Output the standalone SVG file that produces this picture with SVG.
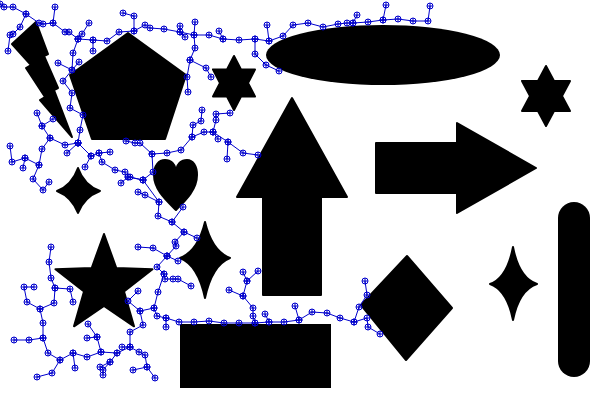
<svg xmlns="http://www.w3.org/2000/svg" width="600" height="400" viewBox="0 0 600 400">
<style>
.s{fill:#000;stroke:#000;stroke-width:2;stroke-linejoin:round}
.e path{fill:none;stroke:#0000cc;stroke-width:1;marker-start:url(#m);marker-mid:url(#m);marker-end:url(#m)}
</style>
<defs>
<marker id="m" viewBox="-4 -4 8 8" refX="0" refY="0" markerWidth="8" markerHeight="8" markerUnits="userSpaceOnUse" overflow="visible">
<circle r="3" fill="none" stroke="#0000cc" stroke-width="1"/>
<path d="M-3,0H3M0,-3V3" stroke="#0000cc" stroke-width="1"/>
</marker>
</defs>
<rect width="600" height="400" fill="#fff"/>
<g id="shapes">
<polygon id="bolt" class="s" points="36,22 48,54 44,56 58,88 54,90 72,137 40,100 45,97 26,68 31,65 12,44"/>
<polygon id="pentagon" class="s" points="128,33 186,75 165,139 92,139 70,75"/>
<polygon id="hexstar1" class="s" points="234,56 241,69.5 255,69.5 248,83 255,96.5 241,96.5 234,110 227,96.5 213,96.5 220,83 213,69.5 227,69.5"/>
<ellipse id="ellipse" cx="383" cy="55" rx="117" ry="30" fill="#000"/>
<polygon id="hexstar2" class="s" points="546,66 554,81 570,81 562,96 570,111 554,111 546,126 538,111 522,111 530,96 522,81 538,81"/>
<polygon id="uparrow" class="s" points="292,98 347,197 321,197 321,295 263,295 263,197 237,197"/>
<polygon id="rightarrow" class="s" points="376,143 457,143 457,123 536,168 457,213 457,193 376,193"/>
<path id="heart" class="s" d="M176,210 C167,201 154,190 154,175 C154,165 159,160 165,160 C171,160 175,164 176,170 C177,164 181,160 187,160 C193,160 197,166 197,175 C197,190 185,201 176,210 Z"/>
<path id="star4a" class="s" d="M78,168 Q84,185 100,191 Q84,197 78,213 Q72,197 57,191 Q72,185 78,168 Z"/>
<polygon id="star5" class="s" points="104,234 116.3,268 152.5,269.2 124,291.5 134,326.3 104,306 74,326.3 84,291.5 55.5,269.2 91.7,268"/>
<path id="star4b" class="s" d="M205,222 Q212,251 230,258 Q212,265 205,298 Q198,265 180,258 Q198,251 205,222 Z"/>
<rect id="rect" x="180" y="324" width="151" height="64" fill="#000"/>
<polygon id="diamond" class="s" points="407,256 452,308 406,360 361,305"/>
<path id="star4c" class="s" d="M513,247 Q519,278 537,284 Q519,290 513,320 Q507,290 490,284 Q507,278 513,247 Z"/>
<rect id="bar" x="558" y="202" width="32" height="175" rx="16" fill="#000"/>
</g>
<g id="tree" class="e">
<path d="M0,4 L4,7 L13,7 L26,14 L39,23 L43,24 L53,23 L65,32 L69,32 L78,39 L93,40 L107,41 L119,32 L134,31 L145,25 L150,28 L164,29 L180,32 L194,35 L209,35 L223,39 L239,40 L255,39 L269,41 L283,36 L293,25 L308,23 L323,27 L338,24 L347,23 L353,23 L368,22 L383,20 L398,19 L413,21 L428,21 L430,6"/>
<path d="M89,23 L82,34 L78,39"/>
<path d="M93,40 L93,51"/>
<path d="M78,39 L73,53 L72,70 L63,81 L72,93 L70,108 L83,115 L80,130 L78,143"/>
<path d="M58,63 L72,70 L79,62"/>
<path d="M123,13 L134,16 L134,31"/>
<path d="M55,7 L53,23"/>
<path d="M26,14 L20,27 L13,34 L10,35 L8,51"/>
<path d="M180,26 L180,32 L185,37"/>
<path d="M195,22 L194,35 L195,48 L190,60 L206,68 L211,77"/>
<path d="M190,60 L187,77 L188,92"/>
<path d="M219,31 L223,39"/>
<path d="M267,25 L269,41"/>
<path d="M255,39 L255,54 L266,65 L279,71"/>
<path d="M353,23 L357,15"/>
<path d="M383,20 L386,5"/>
<path d="M37,113 L42,126 L50,138 L65,145 L78,143"/>
<path d="M53,119 L42,126"/>
<path d="M50,138 L42,149 L39,165 L25,158 L12,162 L10,146"/>
<path d="M25,158 L23,168"/>
<path d="M39,165 L33,179 L43,190 L49,182"/>
<path d="M78,143 L67,153"/>
<path d="M78,143 L91,156 L99,153 L110,152"/>
<path d="M91,156 L85,167"/>
<path d="M99,153 L102,162 L115,170 L125,172 L128,177 L143,180"/>
<path d="M121,183 L128,177"/>
<path d="M126,141 L135,143 L140,143 L152,154 L167,153 L181,150 L192,137 L193,125 L201,121 L202,110"/>
<path d="M192,137 L204,132 L213,132 L216,120 L216,114 L230,113"/>
<path d="M213,132 L218,139"/>
<path d="M213,132 L228,142 L243,153 L258,155"/>
<path d="M228,142 L227,159"/>
<path d="M152,154 L153,172 L143,180 L130,177"/>
<path d="M143,180 L159,202 L158,216 L172,222 L183,207"/>
<path d="M138,192 L145,195 L159,202"/>
<path d="M172,222 L184,232 L197,238"/>
<path d="M184,232 L175,242 L176,246 L167,256 L153,248 L138,247"/>
<path d="M167,256 L178,261"/>
<path d="M167,256 L157,267 L164,274 L165,279 L173,279 L178,279 L191,286"/>
<path d="M164,274 L158,292 L154,308 L157,316 L166,318 L179,322 L194,322 L209,321 L224,323 L239,323 L255,323 L269,322 L284,322 L299,320 L312,312 L327,313 L340,318 L354,322 L359,307 L367,295 L365,281"/>
<path d="M166,318 L166,327"/>
<path d="M255,323 L253,316 L253,308 L243,296 L247,281 L243,272"/>
<path d="M247,281 L258,271"/>
<path d="M243,296 L229,290"/>
<path d="M269,322 L265,314"/>
<path d="M299,320 L295,306"/>
<path d="M354,322 L367,318 L368,327 L380,334"/>
<path d="M51,247 L49,262 L51,278 L55,288 L70,289 L73,302"/>
<path d="M55,288 L54,303 L40,309 L27,302 L24,287 L34,287"/>
<path d="M40,309 L43,323 L43,338 L29,340 L14,340"/>
<path d="M43,338 L48,353 L60,360 L52,373 L37,377"/>
<path d="M60,360 L73,353 L87,357 L101,352 L117,353 L130,347 L130,332 L143,325 L140,311 L128,301 L138,291"/>
<path d="M140,311 L154,308"/>
<path d="M73,353 L75,368"/>
<path d="M101,352 L97,337 L88,324"/>
<path d="M97,337 L87,338"/>
<path d="M117,353 L110,362 L103,370 L103,375"/>
<path d="M110,362 L100,367"/>
<path d="M130,347 L122,347"/>
<path d="M130,347 L139,352 L145,355 L147,367 L155,378"/>
<path d="M147,367 L133,370"/>
</g>
</svg>
